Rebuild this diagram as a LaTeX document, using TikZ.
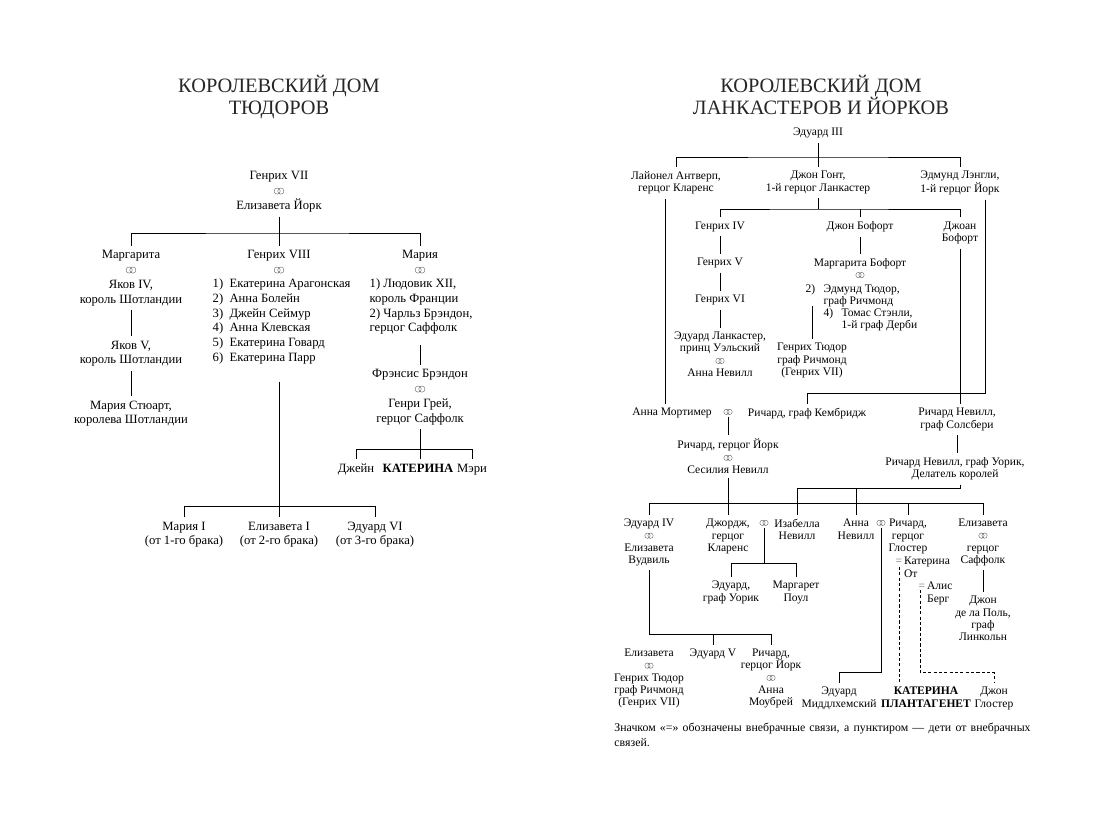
\documentclass[tikz,border=0pt]{standalone}
\usepackage{fontspec}
\setmainfont{Liberation Serif}
\usetikzlibrary{positioning}

% wedding rings, big and small
\newcommand{\wed}{\tikz[baseline=-0.6ex]\draw[line width=0.3pt, black!60] (-1.3pt,0) circle[radius=2.2pt] (1.3pt,0) circle[radius=2.2pt];}
\newcommand{\wedr}{\tikz[baseline=-0.6ex]\draw[line width=0.3pt, black!60] (-1.1pt,0) circle[radius=1.9pt] (1.1pt,0) circle[radius=1.9pt];}
\newcommand{\eqs}{\textcolor{black!55}{=}\,}

\begin{document}
\begin{tikzpicture}[
    x=0.025cm, y=-0.025cm, line width=0.7pt,
    lt/.style={font=\fontsize{9}{10.5}\selectfont, align=center, inner sep=3pt, anchor=north},
    ltb/.style={lt, font=\fontsize{9}{10.5}\selectfont\bfseries},
    rt/.style={font=\fontsize{8.2}{8.7}\selectfont, align=center, inner sep=3pt, anchor=north},
    rtb/.style={rt, font=\fontsize{8.2}{8.7}\selectfont\bfseries},
    rings/.style={inner sep=1pt, anchor=center},
    ttl/.style={font=\fontsize{14.5}{15.6}\selectfont, text=black!85, inner sep=0pt, anchor=base},
    illeg/.style={line width=0.6pt, dash pattern=on 2.2pt off 1.6pt}
  ]
  \useasboundingbox (0,0) rectangle (1100,825);

  % --- Tudors ---
  \node[ttl] (ttlT1) at (279,92) {КОРОЛЕВСКИЙ ДОМ};
  \node[ttl] (ttlT2) at (279,114) {ТЮДОРОВ};
  \node[lt] (h7) at (279,167) {Генрих VII\\\wed\\Елизавета Йорк};
  \node[lt] (marg) at (131,246) {Маргарита\\\wed\\Яков IV,\\король Шотландии};
  \node[lt] (h8) at (279,246) {Генрих VIII\\\wed};
  \node[lt, align=left, anchor=north west] (wives) at (208,274)
    {1)\enspace Екатерина Арагонская\\2)\enspace Анна Болейн\\3)\enspace Джейн Сеймур\\4)\enspace Анна Клевская\\5)\enspace Екатерина Говард\\6)\enspace Екатерина Парр};
  \node[lt] (mary) at (420,246) {Мария\\\wed};
  \node[lt, align=left, anchor=north west] (mhus) at (365,274)
    {1) Людовик XII,\\король Франции\\2) Чарльз Брэндон,\\герцог Саффолк};
  \node[lt] (j5) at (131,336) {Яков V,\\король Шотландии};
  \node[lt] (mst) at (131,396) {Мария Стюарт,\\королева Шотландии};
  \node[lt] (fb) at (420,365) {Фрэнсис Брэндон\\\wed\\Генри Грей,\\герцог Саффолк};
  \node[lt] (jane) at (356,459) {Джейн};
  \node[ltb] (kat) at (418,459) {КАТЕРИНА};
  \node[lt] (meri) at (472,459) {Мэри};
  \node[lt] (m1) at (184,517) {Мария I\\(от 1-го брака)};
  \node[lt] (e1) at (279,517) {Елизавета I\\(от 2-го брака)};
  \node[lt] (e6) at (375,517) {Эдуард VI\\(от 3-го брака)};

  \coordinate (tb1) at (279,233);
  \draw (h7.south) -- (tb1);
  \draw (marg.north) |- (tb1) -| (mary.north);
  \draw (tb1) -- (h8.north);
  \draw (marg.south) -- (j5.north);
  \draw (j5.south) -- (mst.north);
  \draw (mary |- mhus.south) ++(0,6) -- (fb.north);
  \coordinate (tb2) at (420,449);
  \draw (fb.south) -- (fb.south |- kat.north);
  \draw (jane.north) |- (tb2) -| (meri.north);
  \coordinate (tb3) at (279,506);
  \draw (h8 |- wives.south) ++(0,13) -- (e1.north);
  \draw (m1.north) |- (tb3) -| (e6.north);

  % --- Lancaster and York ---
  \node[ttl] (ttlL1) at (821,92) {КОРОЛЕВСКИЙ ДОМ};
  \node[ttl] (ttlL2) at (821,114) {ЛАНКАСТЕРОВ И ЙОРКОВ};
  \node[rt] (e3) at (818,123.5) {Эдуард III};
  \node[rt] (lion) at (676,166.5) {Лайонел Антверп,\\герцог Кларенс};
  \node[rt] (gaunt) at (818,166.5) {Джон Гонт,\\1-й герцог Ланкастер};
  \node[rt] (edm) at (960,166.5) {Эдмунд Лэнгли,\\1-й герцог Йорк};
  \coordinate (rb1) at (818,157);
  \draw (e3.south) -- (rb1);
  \draw (lion.north) |- (rb1) -| (edm.north);
  \draw (rb1) -- (gaunt.north);

  \node[rt] (h4) at (720,217) {Генрих IV};
  \node[rt] (jbf) at (860,217) {Джон Бофорт};
  \node[rt] (joan) at (960,217) {Джоан\\Бофорт};
  \coordinate (rb2) at (818,209);
  \draw (gaunt.south) -- (rb2);
  \draw (h4.north) |- (rb2) -| (joan.north);
  \draw (jbf.north) -- (jbf.north |- rb2);

  \node[rt] (h5) at (720,253.5) {Генрих V};
  \node[rt] (h6) at (720,290.5) {Генрих VI};
  \node[rt] (edl) at (720,327.5) {Эдуард Ланкастер,\\принц Уэльский\\\wedr\\Анна Невилл};
  \draw (h4) -- (h5);
  \draw (h5) -- (h6);
  \draw (h6) -- (edl);

  \node[rt] (mbf) at (860,253.5) {Маргарита Бофорт\\\wedr};
  \draw (jbf) -- (mbf);
  \node[rt, align=left, anchor=north west] (mhus2) at (801,279.5)
    {\makebox[12.8pt][l]{2)}Эдмунд Тюдор,\\\hspace*{12.8pt}граф Ричмонд\\\hspace*{12.8pt}\makebox[12.8pt][l]{4)}Томас Стэнли,\\\hspace*{25.6pt}1-й граф Дерби};
  \node[rt] (ht) at (812,338.5) {Генрих Тюдор\\граф Ричмонд\\(Генрих VII)};
  \draw (ht.north) -- ++(0,-33);

  \node[rt] (mort) at (672,403.5) {Анна Мортимер};
  \node[rt, rings] (wmc) at (728,412) {\wedr};
  \node[rt] (camb) at (807,403.5) {Ричард, граф Кембридж};
  \node[rt] (salis) at (957,403.5) {Ричард Невилл,\\граф Солсбери};
  \draw (lion.south) ++(-11,0) coordinate (lx) -- (lx |- mort.north);
  \draw (edm.south) ++(25,0) |- ([yshift=7.1pt]camb.north) -- (camb.north);
  \draw (joan.south) -- (joan.south |- salis.north);

  \node[rt] (ry) at (728,434.5) {Ричард, герцог Йорк\\\wedr\\Сесилия Невилл};
  \draw (wmc) -- (ry);
  \node[rt] (warw) at (955,452.5) {Ричард Невилл, граф Уорик,\\Делатель королей};
  \draw (salis.south) -- (salis.south |- warw.north);

  \node[rt] (e4) at (649,514.5) {Эдуард IV\\\wedr\\Елизавета\\Вудвиль};
  \node[rt] (geo) at (728,514.5) {Джордж,\\герцог\\Кларенс};
  \node[rt, rings] (wgi) at (764,523) {\wedr};
  \node[rt] (isab) at (797,514.5) {Изабелла\\Невилл};
  \node[rt] (anne) at (856,514.5) {Анна\\Невилл};
  \node[rt, rings] (war) at (881,523) {\wedr};
  \node[rt] (rgl) at (908,514.5) {Ричард,\\герцог\\Глостер};
  \node[rt] (eliz) at (983,514.5) {Елизавета\\\wedr\\герцог\\Саффолк};

  \coordinate (rb3) at (728,503);
  \draw (ry.south) -- (geo.north);
  \draw (e4.north) |- (rb3) -| (eliz.north);
  \draw (rgl.north) -- (rgl.north |- rb3);
  \coordinate (rb4) at (856,488);
  \draw (warw.south) ++(5,0) |- (rb4) -| (isab.north);
  \draw (rb4) -- (anne.north);

  \coordinate (rb5) at (764,563);
  \node[rt] (ewk) at (731,576.5) {Эдуард,\\граф Уорик};
  \node[rt] (mpl) at (796,576.5) {Маргарет\\Поул};
  \draw (wgi) -- (rb5);
  \draw (ewk.north) |- (rb5) -| (mpl.north);

  \node[rt, align=left, anchor=north west] (kot) at (891,552.5) {\eqs Катерина\\\phantom{\eqs}От};
  \node[rt, align=left, anchor=north west] (alis) at (914,577.5) {\eqs Алис\\\phantom{\eqs}Берг};
  \node[rt] (jdp) at (983,591.5) {Джон\\де ла Поль,\\граф\\Линкольн};
  \draw (eliz) -- (jdp);

  \node[rt] (eliz2) at (649,644.5) {Елизавета\\\wedr\\Генрих Тюдор\\граф Ричмонд\\(Генрих VII)};
  \node[rt] (e5) at (713,644.5) {Эдуард V};
  \node[rt] (ryk) at (771,644.5) {Ричард,\\герцог Йорк\\\wedr\\Анна\\Моубрей};
  \node[rt] (emid) at (839,682.5) {Эдуард\\Миддлхемский};
  \node[rtb] (katp) at (926,682.5) {КАТЕРИНА\\ПЛАНТАГЕНЕТ};
  \node[rt] (jgl) at (994,682.5) {Джон\\Глостер};
  \draw (e4.south) |- ([yshift=7.1pt]ryk.north) -- (ryk.north);
  \draw (e5.north) -- ++(0,-10);
  \draw (war) |- ([yshift=7.1pt]emid.north) -- (emid.north);

  \coordinate (kd) at (899,567);
  \draw[illeg] (kd) -- (kd |- katp.north);
  \coordinate (ad) at (920,590);
  \draw[illeg] (ad) |- ([yshift=7.1pt]jgl.north) -- (jgl.north);

  % footnote
  \node[rt, font=\fontsize{8.4}{10}\selectfont, align=justify, text width=10.4cm, anchor=north west, inner sep=0pt] (note) at (614,723)
    {Значком «=» обозначены внебрачные связи, а пунктиром — дети от внебрачных\linebreak связей.};
\end{tikzpicture}
\end{document}
